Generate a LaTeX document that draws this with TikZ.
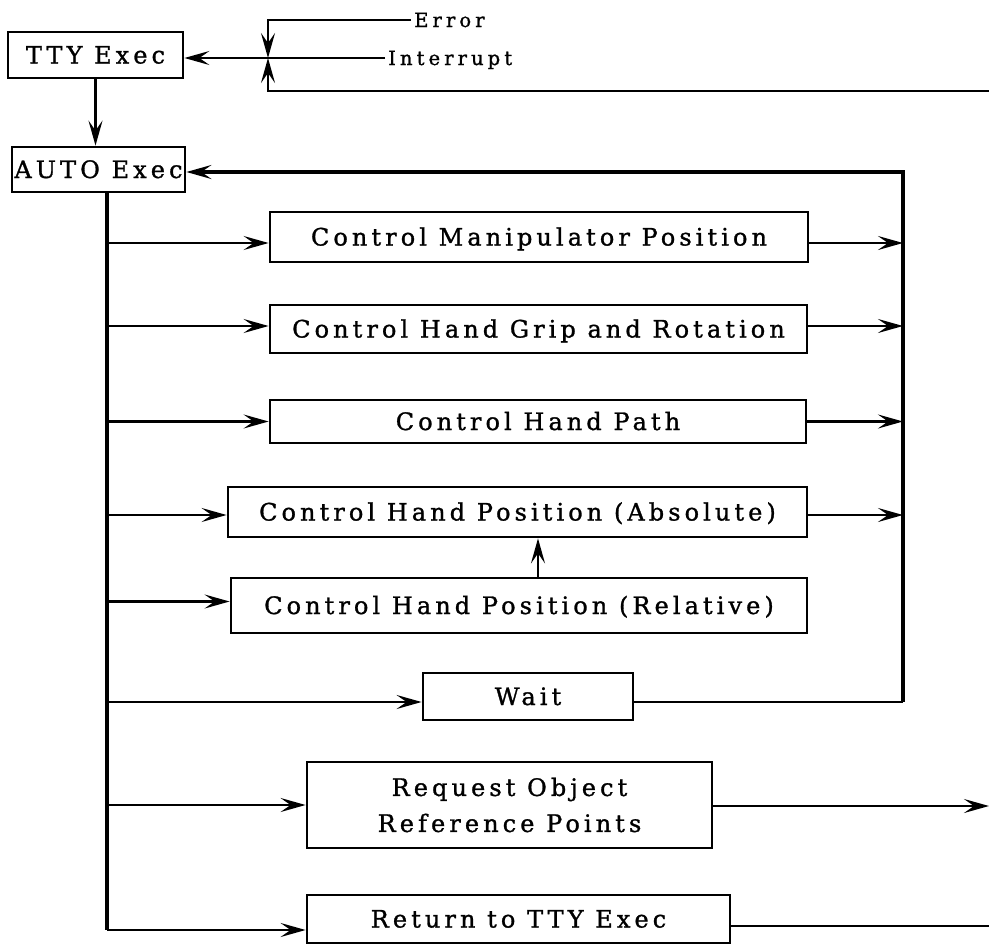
\documentclass[tikz,border=0pt]{standalone}
\usepackage{fontspec}
\usetikzlibrary{arrows.meta}
% letter-spaced serif used inside the boxes and for the side labels
\newfontfamily\flowfam{DejaVu Serif}[LetterSpace=17,FakeBold=1.2]
\newfontfamily\flowlblfam{DejaVu Serif}[LetterSpace=21,FakeBold=1.2]
\newcommand\flowboxfont{\flowfam\fontsize{24}{34}\selectfont}
\newcommand\flowlblfont{\flowlblfam\fontsize{19.5}{24}\selectfont}
\begin{document}
\begin{tikzpicture}[x=1pt,y=-1pt,
  line width=2.5pt,
  box/.style={draw, line width=2.8pt, inner sep=0pt, align=center, font=\flowboxfont},
  one/.style={text height=17pt, text depth=0pt},
  lbl/.style={inner sep=2pt, font=\flowlblfont, text height=14pt, text depth=0pt},
  arr/.style={-{Stealth[length=25pt,width=14pt,inset=10pt]}},
  trunk/.style={line width=3.2pt}
]
% page
\path[fill=white,use as bounding box] (0,0) rectangle (989,945);

% executive boxes
\node[box, one, minimum width=175pt, minimum height=46pt] (tty)  at (95.5,55)   {TTY Exec};
\node[box, one, minimum width=173pt, minimum height=45pt] (auto) at (98.5,169.5) {AUTO Exec};

% command boxes
\node[box, one, minimum width=538pt, minimum height=50pt] (cmp)  at (539,237)   {Control Manipulator Position};
\node[box, one, minimum width=537pt, minimum height=48pt] (cgr)  at (538.5,329) {Control Hand Grip and Rotation};
\node[box, one, minimum width=536pt, minimum height=43pt] (chp)  at (538,421.5) {Control Hand Path};
\node[box, one, minimum width=579pt, minimum height=50pt] (abs)  at (517.5,512) {Control Hand Position (Absolute)};
\node[box, one, minimum width=576pt, minimum height=55pt] (rel)  at (519,605.5) {Control Hand Position (Relative)};
\node[box, one, minimum width=210pt, minimum height=47pt] (wait) at (528,696.5) {Wait};
\node[box, minimum width=405pt, minimum height=86pt] (req)  at (509.5,805) {Request Object\\[2pt]Reference Points};
\node[box, one, minimum width=423pt, minimum height=48pt] (ret)  at (518.5,919) {Return to TTY Exec};

% incoming signals
\node[lbl, anchor=west] (err)  at (411,20) {Error};
\node[lbl, anchor=west] (intr) at (385,58) {Interrupt};

% junction and bus points
\coordinate (jx)  at (268,58);
\coordinate (fb)  at (989,91);
\coordinate (tk0) at (107,192);
\coordinate (tk1) at (107,930);
\coordinate (bt)  at (903,172);
\coordinate (bb)  at (903,702);
\coordinate (rqo) at (989,806);
\coordinate (rto) at (989,926);

% signals into TTY Exec
\draw[arr] (err.west) -| (jx);
\draw[arr] (fb) -| (jx);
\draw[arr] (intr.west) -- (intr.west -| tty.east);

% TTY Exec to AUTO Exec
\draw[arr] (tty.south) -- (tty.south |- auto.north);

% dispatch trunk from AUTO Exec
\draw[trunk] (tk0) -- (tk1);
\draw[arr] ([yshift=-6pt]cmp.west -| tk0) -- ([yshift=-6pt]cmp.west);
\draw[arr] ([yshift=3pt]cgr.west -| tk0) -- ([yshift=3pt]cgr.west);
\draw[arr] (chp.west -| tk0) -- (chp.west);
\draw[arr] ([yshift=-3pt]abs.west -| tk0) -- ([yshift=-3pt]abs.west);
\draw[arr] ([yshift=4pt]rel.west -| tk0) -- ([yshift=4pt]rel.west);
\draw[arr] ([yshift=-5.5pt]wait.west -| tk0) -- ([yshift=-5.5pt]wait.west);
\draw[arr] (req.west -| tk0) -- (req.west);
\draw[arr] (tk1) -- ([yshift=-11pt]ret.west);

% relative position feeds absolute position
\draw[arr] ([xshift=19pt]rel.north) -- ([xshift=19pt]rel.north |- abs.south);

% return bus to AUTO Exec
\draw[arr] ([yshift=-6pt]cmp.east) -- ([yshift=-6pt]cmp.east -| bt);
\draw[arr] ([yshift=3pt]cgr.east) -- ([yshift=3pt]cgr.east -| bt);
\draw[arr] (chp.east) -- (chp.east -| bt);
\draw[arr] ([yshift=-3pt]abs.east) -- ([yshift=-3pt]abs.east -| bt);
\draw (wait.east |- bb) -- (bb);
\draw[trunk, arr] (bb) -- (bt) -- (auto.east |- bt);

% exits on the right
\draw[arr] (req.east |- rqo) -- (rqo);
\draw (ret.east |- rto) -- (rto);
\end{tikzpicture}
\end{document}
